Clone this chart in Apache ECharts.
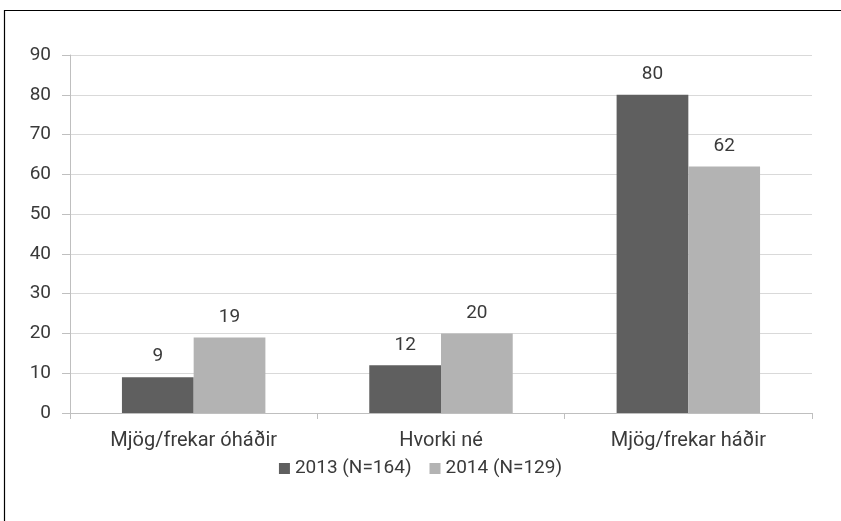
<!DOCTYPE html>
<html><head><meta charset="utf-8">
<script src="https://cdn.jsdelivr.net/npm/echarts@6/dist/echarts.min.js"></script>
<style>html,body{margin:0;padding:0;background:#fff}#c{width:841px;height:521px}</style>
</head><body><div id="c"></div>
<script>
const categories = ["Mjög/frekar óháðir", "Hvorki né", "Mjög/frekar háðir"];
const series2013 = [9, 12, 80];
const series2014 = [19, 20, 62];
const seriesNames = ["2013 (N=164)", "2014 (N=129)"];
const yTicks = {min: 0, max: 90, interval: 10};

const font = "Roboto, 'Open Sans', sans-serif";
const txt = '#3a3a3a';
const chart = echarts.init(document.getElementById('c'));
chart.setOption({
  animation: false,
  textStyle: {fontFamily: font},
  graphic: [{type: 'rect', shape: {x: 4.5, y: 10.5, width: 900, height: 600}, style: {fill: 'none', stroke: '#000', lineWidth: 1.2}, silent: true}],
  grid: {left: 70, right: 29, top: 55, bottom: 108},
  legend: {
    bottom: 38, left: 'center', itemWidth: 11, itemHeight: 11, itemGap: 18, icon: 'rect',
    textStyle: {fontSize: 19, color: txt, fontFamily: font},
    data: seriesNames
  },
  xAxis: {
    type: 'category', data: categories,
    axisLine: {lineStyle: {color: '#bfbfbf'}},
    axisTick: {show: true, length: 6, lineStyle: {color: '#bfbfbf'}},
    axisLabel: {fontSize: 20, color: txt, margin: 18, fontFamily: font}
  },
  yAxis: {
    type: 'value', min: yTicks.min, max: yTicks.max, interval: yTicks.interval,
    axisLine: {show: true, lineStyle: {color: '#bfbfbf'}},
    axisTick: {show: true, length: 8, lineStyle: {color: '#bfbfbf'}},
    splitLine: {lineStyle: {color: '#d9d9d9'}},
    axisLabel: {fontSize: 19, color: txt, margin: 19, fontFamily: font}
  },
  series: [
    {name: seriesNames[0], type: 'bar', data: series2013, barGap: '0%', barCategoryGap: '42%',
     itemStyle: {color: '#5f5f5f'},
     label: {show: true, position: 'top', distance: 11, fontSize: 19, color: txt, fontFamily: font}},
    {name: seriesNames[1], type: 'bar', data: series2014, barGap: '0%', barCategoryGap: '42%',
     itemStyle: {color: '#b3b3b3'},
     label: {show: true, position: 'top', distance: 11, fontSize: 19, color: txt, fontFamily: font}}
  ]
});
</script></body></html>
